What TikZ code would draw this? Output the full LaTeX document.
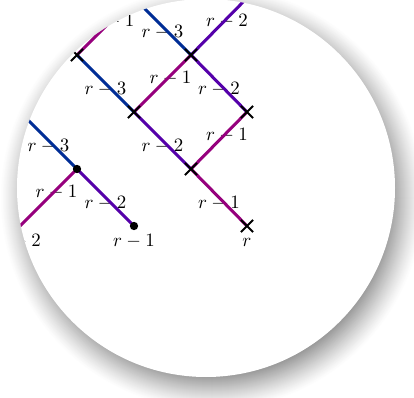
\documentclass[tikz,border=0pt]{standalone}
\usetikzlibrary{shapes.misc}
\definecolor{cblue}{RGB}{0,45,150}
\definecolor{cviolet}{RGB}{85,0,170}
\definecolor{cmag}{RGB}{150,0,125}
\begin{document}
\begin{tikzpicture}[x=0.53pt,y=-0.53pt,
  edge/.style={line width=1.6pt},
  xmark/.style={cross out,draw=black,line width=1.1pt,minimum size=5.3pt,inner sep=0pt},
  dotmark/.style={circle,fill=black,minimum size=4.4pt,inner sep=0pt},
  dlab/.style={midway,yshift=-2.9pt,inner sep=0pt},
  ulab/.style={midway,xshift=4.2pt,yshift=2.6pt,inner sep=0pt},
  leaflab/.style={anchor=base,inner sep=0pt}]
\useasboundingbox (0,0) rectangle (414,398);
% shadow
\foreach \i in {0,...,34}{
  \pgfmathsetmacro\k{0.40*(\i/34)^1.2*100}
  \fill[black!\k] (212,198) circle[radius={(212-\i)*0.53pt}];
}
\fill[white] (206,188) circle[radius={189*0.53pt}];
\begin{scope}
\clip (206,188) circle[radius={189*0.53pt}];
\coordinate (P1) at (134,-2);
\coordinate (P2) at (247,-2);
\coordinate (P3) at (20,112);
\coordinate (P4) at (20,226);
\coordinate (A) at (77,55);
\coordinate (B) at (191,55);
\coordinate (C) at (134,112);
\coordinate (D) at (247,112);
\coordinate (E) at (77,169);
\coordinate (F) at (191,169);
\coordinate (G) at (134,226);
\coordinate (H) at (247,226);
\def\edgelist{P1/A/cmag/ulab/1, A/C/cblue/dlab/3, P1/B/cblue/dlab/3,
  B/P2/cviolet/ulab/2, C/B/cmag/ulab/1, B/D/cviolet/dlab/2,
  C/F/cviolet/dlab/2, F/D/cmag/ulab/1, F/H/cmag/dlab/1,
  P3/E/cblue/dlab/3, P4/E/cmag/ulab/1, E/G/cviolet/dlab/2}
\foreach \a/\b/\c/\l/\t in \edgelist{
  \path (\a) -- node[\l]{$r-\t$} (\b);
}
\foreach \a/\b/\c/\l/\t in \edgelist{
  \draw[edge,draw=\c] (\a) -- (\b);
}
\node[leaflab] (lP4) at ([yshift=-10.6pt]P4) {$r-2$};
\node[leaflab] (lG) at ([yshift=-10.6pt]G) {$r-1$};
\node[leaflab] (lH) at ([yshift=-10.6pt]H) {$r$};
\node[xmark] (mA) at (A) {};
\node[xmark] (mB) at (B) {};
\node[xmark] (mC) at (C) {};
\node[xmark] (mD) at (D) {};
\node[dotmark] (mE) at (E) {};
\node[xmark] (mF) at (F) {};
\node[dotmark] (mG) at (G) {};
\node[xmark] (mH) at (H) {};
\end{scope}
\end{tikzpicture}
\end{document}
